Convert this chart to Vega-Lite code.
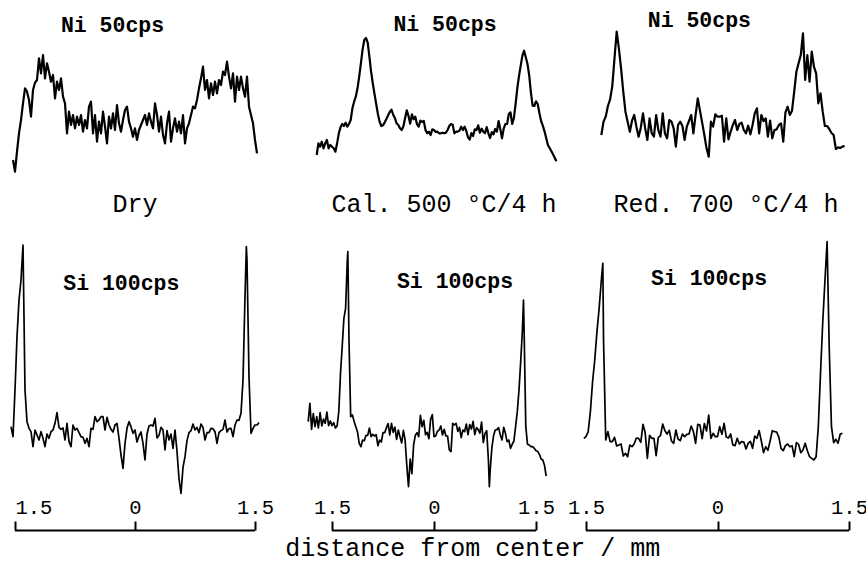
{
"$schema": "https://vega.github.io/schema/vega-lite/v6.json",
"background": "white",
"padding": 0,
"autosize": {"type": "pad"},
"config": {"view": {"stroke": null}, "font": "Liberation Mono"},
"title": {"text": "distance from center / mm", "orient": "bottom", "anchor": "middle", "font": "Liberation Mono", "fontSize": 25, "fontWeight": "normal", "color": "black", "baseline": "alphabetic", "offset": 24, "dx": 39},
"datasets": {
"ni_dry": [{"x":-1.525,"v":60},{"x":-1.5,"v":25},{"x":-1.475,"v":85},{"x":-1.45,"v":140},{"x":-1.425,"v":180},{"x":-1.4,"v":230},{"x":-1.375,"v":275},{"x":-1.35,"v":265},{"x":-1.325,"v":240},{"x":-1.3,"v":190},{"x":-1.275,"v":270},{"x":-1.25,"v":292},{"x":-1.225,"v":300},{"x":-1.2,"v":365},{"x":-1.175,"v":320},{"x":-1.15,"v":375},{"x":-1.125,"v":305},{"x":-1.1,"v":350},{"x":-1.075,"v":325},{"x":-1.05,"v":295},{"x":-1.025,"v":315},{"x":-1,"v":245},{"x":-0.975,"v":295},{"x":-0.95,"v":270},{"x":-0.925,"v":305},{"x":-0.9,"v":250},{"x":-0.875,"v":230},{"x":-0.85,"v":140},{"x":-0.825,"v":205},{"x":-0.8,"v":165},{"x":-0.775,"v":195},{"x":-0.75,"v":155},{"x":-0.725,"v":190},{"x":-0.7,"v":165},{"x":-0.675,"v":195},{"x":-0.65,"v":145},{"x":-0.625,"v":180},{"x":-0.6,"v":155},{"x":-0.575,"v":220},{"x":-0.55,"v":235},{"x":-0.525,"v":140},{"x":-0.5,"v":195},{"x":-0.475,"v":115},{"x":-0.45,"v":175},{"x":-0.425,"v":140},{"x":-0.4,"v":205},{"x":-0.375,"v":160},{"x":-0.35,"v":110},{"x":-0.325,"v":190},{"x":-0.3,"v":155},{"x":-0.275,"v":200},{"x":-0.25,"v":150},{"x":-0.225,"v":225},{"x":-0.2,"v":170},{"x":-0.175,"v":145},{"x":-0.15,"v":180},{"x":-0.125,"v":210},{"x":-0.1,"v":220},{"x":-0.075,"v":175},{"x":-0.05,"v":155},{"x":-0.025,"v":130},{"x":0,"v":155},{"x":0.025,"v":120},{"x":0.05,"v":150},{"x":0.075,"v":165},{"x":0.1,"v":180},{"x":0.125,"v":195},{"x":0.15,"v":165},{"x":0.175,"v":200},{"x":0.2,"v":175},{"x":0.225,"v":155},{"x":0.25,"v":230},{"x":0.275,"v":195},{"x":0.3,"v":145},{"x":0.325,"v":190},{"x":0.35,"v":135},{"x":0.375,"v":110},{"x":0.4,"v":170},{"x":0.425,"v":205},{"x":0.45,"v":115},{"x":0.475,"v":155},{"x":0.5,"v":185},{"x":0.525,"v":145},{"x":0.55,"v":175},{"x":0.575,"v":140},{"x":0.6,"v":195},{"x":0.625,"v":110},{"x":0.65,"v":155},{"x":0.675,"v":170},{"x":0.7,"v":195},{"x":0.725,"v":220},{"x":0.75,"v":215},{"x":0.775,"v":240},{"x":0.8,"v":275},{"x":0.825,"v":305},{"x":0.85,"v":340},{"x":0.875,"v":270},{"x":0.9,"v":300},{"x":0.925,"v":245},{"x":0.95,"v":290},{"x":0.975,"v":255},{"x":1,"v":295},{"x":1.025,"v":260},{"x":1.05,"v":300},{"x":1.075,"v":285},{"x":1.1,"v":325},{"x":1.125,"v":315},{"x":1.15,"v":355},{"x":1.175,"v":310},{"x":1.2,"v":275},{"x":1.225,"v":320},{"x":1.25,"v":235},{"x":1.275,"v":310},{"x":1.3,"v":270},{"x":1.325,"v":310},{"x":1.35,"v":275},{"x":1.375,"v":250},{"x":1.4,"v":310},{"x":1.425,"v":220},{"x":1.45,"v":195},{"x":1.475,"v":170},{"x":1.5,"v":120},{"x":1.525,"v":80}],
"ni_cal": [{"x":-1.725,"v":75},{"x":-1.7,"v":110},{"x":-1.675,"v":100},{"x":-1.65,"v":115},{"x":-1.625,"v":95},{"x":-1.6,"v":110},{"x":-1.575,"v":120},{"x":-1.55,"v":95},{"x":-1.525,"v":105},{"x":-1.5,"v":100},{"x":-1.475,"v":95},{"x":-1.45,"v":85},{"x":-1.425,"v":110},{"x":-1.4,"v":140},{"x":-1.375,"v":158},{"x":-1.35,"v":168},{"x":-1.325,"v":162},{"x":-1.3,"v":172},{"x":-1.275,"v":160},{"x":-1.25,"v":168},{"x":-1.225,"v":180},{"x":-1.2,"v":215},{"x":-1.175,"v":235},{"x":-1.15,"v":250},{"x":-1.125,"v":275},{"x":-1.1,"v":310},{"x":-1.075,"v":350},{"x":-1.05,"v":392},{"x":-1.025,"v":420},{"x":-1,"v":426},{"x":-0.975,"v":412},{"x":-0.95,"v":370},{"x":-0.925,"v":325},{"x":-0.9,"v":290},{"x":-0.875,"v":258},{"x":-0.85,"v":228},{"x":-0.825,"v":198},{"x":-0.8,"v":175},{"x":-0.775,"v":162},{"x":-0.75,"v":164},{"x":-0.725,"v":173},{"x":-0.7,"v":183},{"x":-0.675,"v":194},{"x":-0.65,"v":204},{"x":-0.625,"v":211},{"x":-0.6,"v":196},{"x":-0.575,"v":186},{"x":-0.55,"v":170},{"x":-0.525,"v":165},{"x":-0.5,"v":155},{"x":-0.475,"v":150},{"x":-0.45,"v":161},{"x":-0.425,"v":186},{"x":-0.4,"v":209},{"x":-0.375,"v":192},{"x":-0.35,"v":169},{"x":-0.325,"v":197},{"x":-0.3,"v":182},{"x":-0.275,"v":190},{"x":-0.25,"v":167},{"x":-0.225,"v":160},{"x":-0.2,"v":178},{"x":-0.175,"v":174},{"x":-0.15,"v":177},{"x":-0.125,"v":150},{"x":-0.1,"v":140},{"x":-0.075,"v":145},{"x":-0.05,"v":135},{"x":-0.025,"v":152},{"x":0,"v":150},{"x":0.025,"v":144},{"x":0.05,"v":145},{"x":0.075,"v":140},{"x":0.1,"v":140},{"x":0.125,"v":142},{"x":0.15,"v":140},{"x":0.175,"v":142},{"x":0.2,"v":150},{"x":0.225,"v":162},{"x":0.25,"v":168},{"x":0.275,"v":166},{"x":0.3,"v":140},{"x":0.325,"v":145},{"x":0.35,"v":145},{"x":0.375,"v":148},{"x":0.4,"v":160},{"x":0.425,"v":150},{"x":0.45,"v":160},{"x":0.475,"v":147},{"x":0.5,"v":128},{"x":0.525,"v":121},{"x":0.55,"v":141},{"x":0.575,"v":132},{"x":0.6,"v":152},{"x":0.625,"v":150},{"x":0.65,"v":164},{"x":0.675,"v":142},{"x":0.7,"v":154},{"x":0.725,"v":145},{"x":0.75,"v":140},{"x":0.775,"v":159},{"x":0.8,"v":140},{"x":0.825,"v":126},{"x":0.85,"v":144},{"x":0.875,"v":137},{"x":0.9,"v":153},{"x":0.925,"v":145},{"x":0.95,"v":177},{"x":0.975,"v":153},{"x":1,"v":125},{"x":1.025,"v":154},{"x":1.05,"v":168},{"x":1.075,"v":168},{"x":1.1,"v":198},{"x":1.125,"v":203},{"x":1.15,"v":168},{"x":1.175,"v":186},{"x":1.2,"v":228},{"x":1.225,"v":275},{"x":1.25,"v":312},{"x":1.275,"v":343},{"x":1.3,"v":373},{"x":1.325,"v":388},{"x":1.35,"v":368},{"x":1.375,"v":348},{"x":1.4,"v":314},{"x":1.425,"v":263},{"x":1.45,"v":223},{"x":1.475,"v":222},{"x":1.5,"v":236},{"x":1.525,"v":228},{"x":1.55,"v":201},{"x":1.575,"v":177},{"x":1.6,"v":163},{"x":1.625,"v":146},{"x":1.65,"v":126},{"x":1.675,"v":105},{"x":1.7,"v":96},{"x":1.725,"v":87},{"x":1.75,"v":77},{"x":1.775,"v":67},{"x":1.8,"v":56}],
"ni_red": [{"x":-1.325,"v":135},{"x":-1.3,"v":175},{"x":-1.275,"v":190},{"x":-1.25,"v":222},{"x":-1.225,"v":242},{"x":-1.2,"v":282},{"x":-1.175,"v":365},{"x":-1.15,"v":445},{"x":-1.125,"v":395},{"x":-1.1,"v":335},{"x":-1.075,"v":265},{"x":-1.05,"v":205},{"x":-1.025,"v":175},{"x":-1,"v":145},{"x":-0.975,"v":178},{"x":-0.95,"v":195},{"x":-0.925,"v":160},{"x":-0.9,"v":130},{"x":-0.875,"v":157},{"x":-0.85,"v":200},{"x":-0.825,"v":155},{"x":-0.8,"v":120},{"x":-0.775,"v":185},{"x":-0.75,"v":140},{"x":-0.725,"v":130},{"x":-0.7,"v":195},{"x":-0.675,"v":150},{"x":-0.65,"v":130},{"x":-0.625,"v":200},{"x":-0.6,"v":140},{"x":-0.575,"v":125},{"x":-0.55,"v":180},{"x":-0.525,"v":175},{"x":-0.5,"v":155},{"x":-0.475,"v":100},{"x":-0.45,"v":165},{"x":-0.425,"v":175},{"x":-0.4,"v":162},{"x":-0.375,"v":120},{"x":-0.35,"v":160},{"x":-0.325,"v":177},{"x":-0.3,"v":195},{"x":-0.275,"v":140},{"x":-0.25,"v":195},{"x":-0.225,"v":245},{"x":-0.2,"v":208},{"x":-0.175,"v":172},{"x":-0.15,"v":135},{"x":-0.125,"v":95},{"x":-0.1,"v":70},{"x":-0.075,"v":175},{"x":-0.05,"v":160},{"x":-0.025,"v":197},{"x":0,"v":190},{"x":0.025,"v":190},{"x":0.05,"v":193},{"x":0.075,"v":115},{"x":0.1,"v":185},{"x":0.125,"v":122},{"x":0.15,"v":145},{"x":0.175,"v":165},{"x":0.2,"v":180},{"x":0.225,"v":150},{"x":0.25,"v":168},{"x":0.275,"v":172},{"x":0.3,"v":150},{"x":0.325,"v":140},{"x":0.35,"v":163},{"x":0.375,"v":137},{"x":0.4,"v":165},{"x":0.425,"v":200},{"x":0.45,"v":215},{"x":0.475,"v":140},{"x":0.5,"v":195},{"x":0.525,"v":177},{"x":0.55,"v":185},{"x":0.575,"v":130},{"x":0.6,"v":178},{"x":0.625,"v":125},{"x":0.65,"v":150},{"x":0.675,"v":152},{"x":0.7,"v":165},{"x":0.725,"v":170},{"x":0.75,"v":115},{"x":0.775,"v":203},{"x":0.8,"v":220},{"x":0.825,"v":195},{"x":0.85,"v":208},{"x":0.875,"v":265},{"x":0.9,"v":325},{"x":0.925,"v":350},{"x":0.95,"v":375},{"x":0.975,"v":440},{"x":1,"v":300},{"x":1.025,"v":375},{"x":1.05,"v":295},{"x":1.075,"v":385},{"x":1.1,"v":340},{"x":1.125,"v":320},{"x":1.15,"v":230},{"x":1.175,"v":260},{"x":1.2,"v":205},{"x":1.225,"v":162},{"x":1.25,"v":162},{"x":1.275,"v":153},{"x":1.3,"v":141},{"x":1.325,"v":135},{"x":1.35,"v":93},{"x":1.375,"v":98},{"x":1.4,"v":96},{"x":1.425,"v":100},{"x":1.45,"v":102}],
"si_dry": [{"x":-1.55,"v":310},{"x":-1.525,"v":280},{"x":-1.5,"v":420},{"x":-1.475,"v":580},{"x":-1.45,"v":690},{"x":-1.425,"v":750},{"x":-1.4,"v":855},{"x":-1.375,"v":420},{"x":-1.35,"v":325},{"x":-1.325,"v":305},{"x":-1.3,"v":295},{"x":-1.275,"v":250},{"x":-1.25,"v":300},{"x":-1.225,"v":285},{"x":-1.2,"v":270},{"x":-1.175,"v":295},{"x":-1.15,"v":275},{"x":-1.125,"v":250},{"x":-1.1,"v":288},{"x":-1.075,"v":275},{"x":-1.05,"v":295},{"x":-1.025,"v":300},{"x":-1,"v":320},{"x":-0.975,"v":352},{"x":-0.95,"v":308},{"x":-0.925,"v":302},{"x":-0.9,"v":306},{"x":-0.875,"v":270},{"x":-0.85,"v":320},{"x":-0.825,"v":265},{"x":-0.8,"v":250},{"x":-0.775,"v":315},{"x":-0.75,"v":300},{"x":-0.725,"v":305},{"x":-0.7,"v":292},{"x":-0.675,"v":280},{"x":-0.65,"v":278},{"x":-0.625,"v":260},{"x":-0.6,"v":275},{"x":-0.575,"v":250},{"x":-0.55,"v":305},{"x":-0.525,"v":302},{"x":-0.5,"v":340},{"x":-0.475,"v":325},{"x":-0.45,"v":330},{"x":-0.425,"v":340},{"x":-0.4,"v":340},{"x":-0.375,"v":300},{"x":-0.35,"v":338},{"x":-0.325,"v":315},{"x":-0.3,"v":302},{"x":-0.275,"v":294},{"x":-0.25,"v":315},{"x":-0.225,"v":320},{"x":-0.2,"v":275},{"x":-0.175,"v":225},{"x":-0.15,"v":185},{"x":-0.125,"v":260},{"x":-0.1,"v":305},{"x":-0.075,"v":325},{"x":-0.05,"v":310},{"x":-0.025,"v":290},{"x":0,"v":300},{"x":0.025,"v":264},{"x":0.05,"v":282},{"x":0.075,"v":294},{"x":0.1,"v":260},{"x":0.125,"v":210},{"x":0.15,"v":288},{"x":0.175,"v":312},{"x":0.2,"v":315},{"x":0.225,"v":312},{"x":0.25,"v":335},{"x":0.275,"v":276},{"x":0.3,"v":284},{"x":0.325,"v":308},{"x":0.35,"v":300},{"x":0.375,"v":240},{"x":0.4,"v":298},{"x":0.425,"v":270},{"x":0.45,"v":288},{"x":0.475,"v":245},{"x":0.5,"v":300},{"x":0.525,"v":236},{"x":0.55,"v":154},{"x":0.575,"v":110},{"x":0.6,"v":188},{"x":0.625,"v":220},{"x":0.65,"v":268},{"x":0.675,"v":292},{"x":0.7,"v":298},{"x":0.725,"v":318},{"x":0.75,"v":300},{"x":0.775,"v":308},{"x":0.8,"v":292},{"x":0.825,"v":318},{"x":0.85,"v":308},{"x":0.875,"v":270},{"x":0.9,"v":292},{"x":0.925,"v":292},{"x":0.95,"v":305},{"x":0.975,"v":304},{"x":1,"v":295},{"x":1.025,"v":260},{"x":1.05,"v":292},{"x":1.075,"v":298},{"x":1.1,"v":302},{"x":1.125,"v":330},{"x":1.15,"v":294},{"x":1.175,"v":304},{"x":1.2,"v":305},{"x":1.225,"v":280},{"x":1.25,"v":315},{"x":1.275,"v":330},{"x":1.3,"v":329},{"x":1.325,"v":350},{"x":1.35,"v":450},{"x":1.375,"v":700},{"x":1.392,"v":850},{"x":1.4,"v":810},{"x":1.425,"v":460},{"x":1.45,"v":290},{"x":1.475,"v":305},{"x":1.5,"v":315},{"x":1.525,"v":315},{"x":1.55,"v":322}],
"si_cal": [{"x":-1.85,"v":325},{"x":-1.825,"v":380},{"x":-1.8,"v":302},{"x":-1.775,"v":349},{"x":-1.75,"v":310},{"x":-1.725,"v":340},{"x":-1.7,"v":306},{"x":-1.675,"v":352},{"x":-1.65,"v":312},{"x":-1.625,"v":333},{"x":-1.6,"v":320},{"x":-1.575,"v":354},{"x":-1.55,"v":313},{"x":-1.525,"v":327},{"x":-1.5,"v":313},{"x":-1.475,"v":322},{"x":-1.45,"v":306},{"x":-1.425,"v":312},{"x":-1.4,"v":355},{"x":-1.375,"v":470},{"x":-1.35,"v":550},{"x":-1.325,"v":635},{"x":-1.3,"v":665},{"x":-1.275,"v":810},{"x":-1.267,"v":835},{"x":-1.25,"v":570},{"x":-1.225,"v":340},{"x":-1.2,"v":345},{"x":-1.175,"v":326},{"x":-1.15,"v":310},{"x":-1.125,"v":295},{"x":-1.1,"v":260},{"x":-1.075,"v":250},{"x":-1.05,"v":270},{"x":-1.025,"v":268},{"x":-1,"v":284},{"x":-0.975,"v":284},{"x":-0.95,"v":306},{"x":-0.925,"v":280},{"x":-0.9,"v":287},{"x":-0.875,"v":282},{"x":-0.85,"v":286},{"x":-0.825,"v":253},{"x":-0.8,"v":270},{"x":-0.775,"v":264},{"x":-0.75,"v":292},{"x":-0.725,"v":292},{"x":-0.7,"v":307},{"x":-0.675,"v":319},{"x":-0.65,"v":285},{"x":-0.625,"v":320},{"x":-0.6,"v":293},{"x":-0.575,"v":309},{"x":-0.55,"v":272},{"x":-0.525,"v":300},{"x":-0.5,"v":280},{"x":-0.475,"v":261},{"x":-0.45,"v":299},{"x":-0.425,"v":270},{"x":-0.4,"v":194},{"x":-0.375,"v":130},{"x":-0.35,"v":213},{"x":-0.325,"v":169},{"x":-0.3,"v":255},{"x":-0.275,"v":284},{"x":-0.25,"v":292},{"x":-0.225,"v":280},{"x":-0.2,"v":344},{"x":-0.175,"v":310},{"x":-0.15,"v":329},{"x":-0.125,"v":286},{"x":-0.1,"v":293},{"x":-0.075,"v":274},{"x":-0.05,"v":332},{"x":-0.025,"v":346},{"x":0,"v":280},{"x":0.025,"v":282},{"x":0.05,"v":296},{"x":0.075,"v":300},{"x":0.1,"v":312},{"x":0.125,"v":285},{"x":0.15,"v":302},{"x":0.175,"v":282},{"x":0.2,"v":282},{"x":0.225,"v":240},{"x":0.25,"v":235},{"x":0.275,"v":320},{"x":0.3,"v":315},{"x":0.325,"v":320},{"x":0.35,"v":296},{"x":0.375,"v":308},{"x":0.4,"v":277},{"x":0.425,"v":300},{"x":0.45,"v":295},{"x":0.475,"v":318},{"x":0.5,"v":286},{"x":0.525,"v":316},{"x":0.55,"v":303},{"x":0.575,"v":326},{"x":0.6,"v":286},{"x":0.625,"v":307},{"x":0.65,"v":301},{"x":0.675,"v":291},{"x":0.7,"v":324},{"x":0.725,"v":262},{"x":0.75,"v":290},{"x":0.775,"v":298},{"x":0.8,"v":210},{"x":0.814,"v":130},{"x":0.825,"v":175},{"x":0.85,"v":245},{"x":0.875,"v":282},{"x":0.9,"v":300},{"x":0.925,"v":301},{"x":0.95,"v":307},{"x":0.975,"v":285},{"x":1,"v":270},{"x":1.025,"v":308},{"x":1.05,"v":290},{"x":1.075,"v":265},{"x":1.1,"v":270},{"x":1.125,"v":245},{"x":1.15,"v":257},{"x":1.175,"v":267},{"x":1.2,"v":310},{"x":1.225,"v":355},{"x":1.25,"v":420},{"x":1.275,"v":505},{"x":1.3,"v":600},{"x":1.316,"v":690},{"x":1.325,"v":600},{"x":1.35,"v":310},{"x":1.375,"v":257},{"x":1.4,"v":255},{"x":1.425,"v":250},{"x":1.45,"v":250},{"x":1.475,"v":245},{"x":1.5,"v":238},{"x":1.525,"v":236},{"x":1.55,"v":227},{"x":1.575,"v":213},{"x":1.6,"v":210},{"x":1.625,"v":194},{"x":1.65,"v":162}],
"si_red": [{"x":-1.525,"v":275},{"x":-1.5,"v":280},{"x":-1.475,"v":295},{"x":-1.45,"v":355},{"x":-1.425,"v":445},{"x":-1.4,"v":510},{"x":-1.375,"v":595},{"x":-1.35,"v":665},{"x":-1.325,"v":750},{"x":-1.308,"v":800},{"x":-1.3,"v":570},{"x":-1.275,"v":270},{"x":-1.25,"v":295},{"x":-1.225,"v":265},{"x":-1.2,"v":265},{"x":-1.175,"v":278},{"x":-1.15,"v":252},{"x":-1.125,"v":255},{"x":-1.1,"v":258},{"x":-1.075,"v":222},{"x":-1.05,"v":230},{"x":-1.025,"v":220},{"x":-1,"v":255},{"x":-0.975,"v":250},{"x":-0.95,"v":259},{"x":-0.925,"v":276},{"x":-0.9,"v":275},{"x":-0.875,"v":263},{"x":-0.85,"v":317},{"x":-0.825,"v":292},{"x":-0.8,"v":215},{"x":-0.775,"v":284},{"x":-0.75,"v":275},{"x":-0.725,"v":275},{"x":-0.7,"v":223},{"x":-0.675,"v":278},{"x":-0.65,"v":283},{"x":-0.625,"v":318},{"x":-0.6,"v":298},{"x":-0.575,"v":288},{"x":-0.55,"v":299},{"x":-0.525,"v":267},{"x":-0.5,"v":260},{"x":-0.475,"v":300},{"x":-0.45,"v":273},{"x":-0.425,"v":268},{"x":-0.4,"v":288},{"x":-0.375,"v":280},{"x":-0.35,"v":287},{"x":-0.325,"v":288},{"x":-0.3,"v":312},{"x":-0.275,"v":296},{"x":-0.25,"v":260},{"x":-0.225,"v":317},{"x":-0.2,"v":315},{"x":-0.175,"v":274},{"x":-0.15,"v":319},{"x":-0.125,"v":297},{"x":-0.1,"v":345},{"x":-0.075,"v":275},{"x":-0.05,"v":290},{"x":-0.025,"v":280},{"x":0,"v":280},{"x":0.025,"v":310},{"x":0.05,"v":287},{"x":0.075,"v":320},{"x":0.1,"v":279},{"x":0.125,"v":276},{"x":0.15,"v":288},{"x":0.175,"v":255},{"x":0.2,"v":253},{"x":0.225,"v":275},{"x":0.25,"v":258},{"x":0.275,"v":265},{"x":0.3,"v":264},{"x":0.325,"v":243},{"x":0.35,"v":260},{"x":0.375,"v":266},{"x":0.4,"v":245},{"x":0.425,"v":282},{"x":0.45,"v":275},{"x":0.475,"v":298},{"x":0.5,"v":267},{"x":0.525,"v":232},{"x":0.55,"v":250},{"x":0.575,"v":239},{"x":0.6,"v":267},{"x":0.625,"v":298},{"x":0.65,"v":295},{"x":0.675,"v":294},{"x":0.7,"v":278},{"x":0.725,"v":245},{"x":0.75,"v":238},{"x":0.775,"v":253},{"x":0.8,"v":258},{"x":0.825,"v":250},{"x":0.85,"v":253},{"x":0.875,"v":220},{"x":0.9,"v":262},{"x":0.925,"v":257},{"x":0.95,"v":232},{"x":0.975,"v":240},{"x":1,"v":260},{"x":1.025,"v":238},{"x":1.05,"v":220},{"x":1.075,"v":215},{"x":1.1,"v":210},{"x":1.125,"v":220},{"x":1.15,"v":310},{"x":1.175,"v":470},{"x":1.2,"v":620},{"x":1.225,"v":745},{"x":1.25,"v":865},{"x":1.275,"v":540},{"x":1.3,"v":310},{"x":1.325,"v":262},{"x":1.35,"v":272},{"x":1.375,"v":260},{"x":1.4,"v":288},{"x":1.425,"v":290}]
},
"spacing": 0,
"bounds": "flush",
"columns": 3,
"concat": [
 {"width": 290, "height": 180, "data": {"name": "ni_dry"}, "layer": [
  {"mark": {"type": "line", "color": "black", "strokeWidth": 2.2, "strokeJoin": "round"},
   "encoding": {"x": {"field": "x", "type": "quantitative", "scale": {"domain": [-1.6875, 1.9375], "nice": false, "zero": false}, "axis": null},
                "y": {"field": "v", "type": "quantitative", "scale": {"domain": [0, 540], "nice": false}, "axis": null}}},
  {"data": {"values": [{}]}, "mark": {"type": "text", "text": "Ni 50cps", "font": "Liberation Mono", "fontWeight": "bold", "fontSize": 21.5, "align": "center", "baseline": "alphabetic", "color": "black"},
   "encoding": {"x": {"datum": -0.281, "type": "quantitative"}, "y": {"datum": 444, "type": "quantitative"}}}
 ]},
 {"width": 280, "height": 180, "data": {"name": "ni_cal"}, "layer": [
  {"mark": {"type": "line", "color": "black", "strokeWidth": 2.2, "strokeJoin": "round"},
   "encoding": {"x": {"field": "x", "type": "quantitative", "scale": {"domain": [-2.1176, 2.0], "nice": false, "zero": false}, "axis": null},
                "y": {"field": "v", "type": "quantitative", "scale": {"domain": [0, 540], "nice": false}, "axis": null}}},
  {"data": {"values": [{}]}, "mark": {"type": "text", "text": "Ni 50cps", "font": "Liberation Mono", "fontWeight": "bold", "fontSize": 21.5, "align": "center", "baseline": "alphabetic", "color": "black"},
   "encoding": {"x": {"datum": 0.162, "type": "quantitative"}, "y": {"datum": 448, "type": "quantitative"}}}
 ]},
 {"width": 296, "height": 180, "data": {"name": "ni_red"}, "layer": [
  {"mark": {"type": "line", "color": "black", "strokeWidth": 2.2, "strokeJoin": "round"},
   "encoding": {"x": {"field": "x", "type": "quantitative", "scale": {"domain": [-1.6825, 1.6939], "nice": false, "zero": false}, "axis": null},
                "y": {"field": "v", "type": "quantitative", "scale": {"domain": [0, 540], "nice": false}, "axis": null}}},
  {"data": {"values": [{}]}, "mark": {"type": "text", "text": "Ni 50cps", "font": "Liberation Mono", "fontWeight": "bold", "fontSize": 21.5, "align": "center", "baseline": "alphabetic", "color": "black"},
   "encoding": {"x": {"datum": -0.207, "type": "quantitative"}, "y": {"datum": 458, "type": "quantitative"}}}
 ]},
 {"width": 290, "height": 350, "data": {"name": "si_dry"}, "layer": [
  {"mark": {"type": "line", "color": "black", "strokeWidth": 1.7, "strokeJoin": "round"},
   "encoding": {"x": {"field": "x", "type": "quantitative", "scale": {"domain": [-1.6875, 1.9375], "nice": false, "zero": false}, "axis": null},
                "y": {"field": "v", "type": "quantitative", "scale": {"domain": [0, 1050], "nice": false}, "axis": null}}},
  {"data": {"values": [{}]}, "mark": {"type": "text", "text": "Si 100cps", "font": "Liberation Mono", "fontWeight": "bold", "fontSize": 21.5, "align": "center", "baseline": "alphabetic", "color": "black"},
   "encoding": {"x": {"datum": -0.171, "type": "quantitative"}, "y": {"datum": 720, "type": "quantitative"}}},
  {"data": {"values": [{}]}, "mark": {"type": "text", "text": "Dry", "font": "Liberation Mono", "fontSize": 25, "align": "center", "baseline": "alphabetic", "color": "black"},
   "encoding": {"x": {"datum": 0, "type": "quantitative"}, "y": {"datum": 955, "type": "quantitative"}}}
 ]},
 {"width": 280, "height": 350, "data": {"name": "si_cal"}, "layer": [
  {"mark": {"type": "line", "color": "black", "strokeWidth": 1.7, "strokeJoin": "round"},
   "encoding": {"x": {"field": "x", "type": "quantitative", "scale": {"domain": [-2.1176, 2.0], "nice": false, "zero": false}, "axis": null},
                "y": {"field": "v", "type": "quantitative", "scale": {"domain": [0, 1050], "nice": false}, "axis": null}}},
  {"data": {"values": [{}]}, "mark": {"type": "text", "text": "Si 100cps", "font": "Liberation Mono", "fontWeight": "bold", "fontSize": 21.5, "align": "center", "baseline": "alphabetic", "color": "black"},
   "encoding": {"x": {"datum": 0.309, "type": "quantitative"}, "y": {"datum": 725, "type": "quantitative"}}},
  {"data": {"values": [{}]}, "mark": {"type": "text", "text": "Cal. 500 °C/4 h", "font": "Liberation Mono", "fontSize": 25, "align": "center", "baseline": "alphabetic", "color": "black"},
   "encoding": {"x": {"datum": 0.147, "type": "quantitative"}, "y": {"datum": 955, "type": "quantitative"}}}
 ]},
 {"width": 296, "height": 350, "data": {"name": "si_red"}, "layer": [
  {"mark": {"type": "line", "color": "black", "strokeWidth": 1.7, "strokeJoin": "round"},
   "encoding": {"x": {"field": "x", "type": "quantitative", "scale": {"domain": [-1.6825, 1.6939], "nice": false, "zero": false}, "axis": null},
                "y": {"field": "v", "type": "quantitative", "scale": {"domain": [0, 1050], "nice": false}, "axis": null}}},
  {"data": {"values": [{}]}, "mark": {"type": "text", "text": "Si 100cps", "font": "Liberation Mono", "fontWeight": "bold", "fontSize": 21.5, "align": "center", "baseline": "alphabetic", "color": "black"},
   "encoding": {"x": {"datum": -0.097, "type": "quantitative"}, "y": {"datum": 735, "type": "quantitative"}}},
  {"data": {"values": [{}]}, "mark": {"type": "text", "text": "Red. 700 °C/4 h", "font": "Liberation Mono", "fontSize": 25, "align": "center", "baseline": "alphabetic", "color": "black"},
   "encoding": {"x": {"datum": 0.097, "type": "quantitative"}, "y": {"datum": 955, "type": "quantitative"}}}
 ]},
 {"width": 290, "height": 1, "data": {"values": [{"from": -1.5, "to": 1.5}]},
  "mark": {"type": "rule", "color": "black", "strokeWidth": 2},
  "encoding": {"x": {"field": "from", "type": "quantitative", "scale": {"domain": [-1.6875, 1.9375], "nice": false, "zero": false},
     "axis": {"orient": "top", "values": [-1.5, 0, 1.5], "labelExpr": "datum.value == 0 ? '0' : '1.5'", "domain": false, "grid": false, "tickSize": 9, "tickWidth": 2, "tickColor": "black", "labelFont": "Liberation Mono", "labelFontSize": 20.5, "labelColor": "black", "labelPadding": 4, "labelFlush": false, "labelOverlap": false, "labelAlign": {"condition": {"test": "datum.value < 0", "value": "left"}, "value": "center"}, "title": null}},
   "x2": {"field": "to"}}},
 {"width": 280, "height": 1, "data": {"values": [{"from": -1.5, "to": 1.5}]},
  "mark": {"type": "rule", "color": "black", "strokeWidth": 2},
  "encoding": {"x": {"field": "from", "type": "quantitative", "scale": {"domain": [-2.1176, 2.0], "nice": false, "zero": false},
     "axis": {"orient": "top", "values": [-1.5, 0, 1.5], "labelExpr": "datum.value == 0 ? '0' : '1.5'", "domain": false, "grid": false, "tickSize": 9, "tickWidth": 2, "tickColor": "black", "labelFont": "Liberation Mono", "labelFontSize": 20.5, "labelColor": "black", "labelPadding": 4, "labelFlush": false, "labelOverlap": false, "title": null}},
   "x2": {"field": "to"}}},
 {"width": 296, "height": 1, "data": {"values": [{"from": -1.5, "to": 1.5}]},
  "mark": {"type": "rule", "color": "black", "strokeWidth": 2},
  "encoding": {"x": {"field": "from", "type": "quantitative", "scale": {"domain": [-1.6825, 1.6939], "nice": false, "zero": false},
     "axis": {"orient": "top", "values": [-1.5, 0, 1.5], "labelExpr": "datum.value == 0 ? '0' : '1.5'", "domain": false, "grid": false, "tickSize": 9, "tickWidth": 2, "tickColor": "black", "labelFont": "Liberation Mono", "labelFontSize": 20.5, "labelColor": "black", "labelPadding": 4, "labelFlush": false, "labelOverlap": false, "title": null}},
   "x2": {"field": "to"}}}
]
}
